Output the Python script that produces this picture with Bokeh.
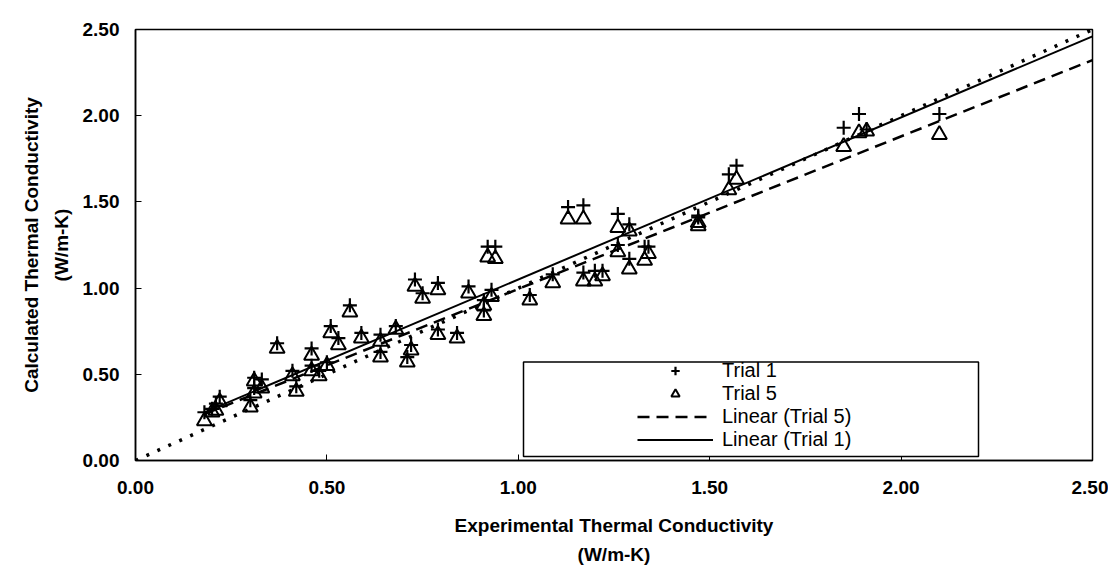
from bokeh.plotting import figure
from bokeh.models import Legend, LegendItem, BoxAnnotation, FixedTicker, Range1d
from bokeh.embed import file_html
from bokeh.resources import INLINE

# ---- data ----
exp_k = [0.18, 0.20, 0.21, 0.22, 0.30, 0.31, 0.31, 0.33, 0.37, 0.41, 0.42, 0.46, 0.46, 0.48,
         0.50, 0.51, 0.53, 0.56, 0.59, 0.64, 0.64, 0.68, 0.71, 0.72, 0.73, 0.75, 0.79, 0.79,
         0.84, 0.87, 0.91, 0.91, 0.92, 0.93, 0.94, 1.03, 1.09, 1.13, 1.17, 1.17, 1.20, 1.22,
         1.26, 1.26, 1.29, 1.29, 1.33, 1.34, 1.47, 1.47, 1.55, 1.57, 1.85, 1.89, 1.91, 2.10]
trial1 = [0.28, 0.30, 0.33, 0.37, 0.35, 0.42, 0.48, 0.47, 0.68, 0.52, 0.43, 0.65, 0.55, 0.52,
          0.57, 0.78, 0.71, 0.90, 0.74, 0.73, 0.63, 0.78, 0.60, 0.67, 1.05, 0.97, 1.03, 0.76,
          0.74, 1.01, 0.87, 0.93, 1.24, 0.99, 1.24, 0.96, 1.08, 1.47, 1.48, 1.09, 1.10, 1.10,
          1.43, 1.25, 1.37, 1.17, 1.24, 1.24, 1.41, 1.42, 1.66, 1.71, 1.93, 2.01, 1.92, 2.01]
trial5 = [0.23, 0.28, 0.29, 0.34, 0.31, 0.39, 0.46, 0.42, 0.65, 0.49, 0.40, 0.61, 0.52, 0.49,
          0.55, 0.74, 0.67, 0.86, 0.71, 0.69, 0.60, 0.76, 0.57, 0.64, 1.01, 0.94, 0.99, 0.73,
          0.71, 0.97, 0.84, 0.90, 1.18, 0.95, 1.17, 0.93, 1.03, 1.40, 1.40, 1.04, 1.04, 1.07,
          1.35, 1.21, 1.33, 1.11, 1.16, 1.20, 1.36, 1.38, 1.57, 1.63, 1.82, 1.90, 1.91, 1.89]

# linear trendlines (slope, intercept)
trend_trial1 = (0.94, 0.11)
trend_trial5 = (0.885, 0.11)
axis_max = 2.5
ticks = [0.0, 0.5, 1.0, 1.5, 2.0, 2.5]
tick_labels = {0.0: "0.00", 0.5: "0.50", 1.0: "1.00", 1.5: "1.50", 2.0: "2.00", 2.5: "2.50"}
labels = ["Trial 1", "Trial 5", "Linear (Trial 5)", "Linear (Trial 1)"]

FONT = "Liberation Sans"

p = figure(width=1108, height=567, output_backend="svg", toolbar_location=None,
           x_range=Range1d(0, axis_max), y_range=Range1d(0, axis_max),
           min_border_left=135, min_border_right=16, min_border_top=29, min_border_bottom=105)
p.grid.visible = False
p.outline_line_color = "black"
p.outline_line_width = 1.5
p.background_fill_color = "white"
p.border_fill_color = "white"

for ax in (p.xaxis[0], p.yaxis[0]):
    ax.ticker = FixedTicker(ticks=ticks)
    ax.major_label_overrides = tick_labels
    ax.major_tick_in = 6
    ax.major_tick_out = 0
    ax.minor_tick_line_color = None
    ax.axis_line_color = "black"
    ax.axis_line_width = 1.5
    ax.major_tick_line_width = 1
    ax.major_label_text_font = FONT
    ax.major_label_text_font_style = "bold"
    ax.major_label_text_font_size = "19px"
    ax.major_label_text_color = "black"
    ax.axis_label_text_font = FONT
    ax.axis_label_text_font_style = "bold"
    ax.axis_label_text_font_size = "19px"
    ax.axis_label_text_color = "black"
    ax.axis_label_text_line_height = 1.4

p.xaxis.axis_label = "Experimental Thermal Conductivity\n(W/m-K)"
p.yaxis.axis_label = "Calculated Thermal Conductivity\n(W/m-K)"
p.xaxis.major_label_standoff = 20
p.yaxis.major_label_standoff = 16
p.xaxis.axis_label_standoff = 18
p.yaxis.axis_label_standoff = 8

# 1:1 reference line
p.line([0, axis_max], [0, axis_max], line_color="black", line_width=3.5, line_dash="3 9")

# trendlines
x0 = min(exp_k)
tx = [x0, axis_max]
t5 = p.line(tx, [trend_trial5[0] * v + trend_trial5[1] for v in tx],
            line_color="black", line_width=2.5, line_dash="12 7")
t1 = p.line(tx, [trend_trial1[0] * v + trend_trial1[1] for v in tx],
            line_color="black", line_width=2)

r1 = p.scatter(exp_k, trial1, marker="cross", size=14, line_color="black", line_width=2.2)
r5 = p.scatter(exp_k, trial5, marker="triangle", size=15, line_color="black",
               line_width=2, fill_color=None)

# legend frame
box = BoxAnnotation(left=(523 - 135) / 382.8, right=(978 - 135) / 382.8,
                    bottom=(462 - 458) / 173.2, top=(462 - 363) / 173.2,
                    fill_color="white", fill_alpha=1, line_color="black", line_alpha=1,
                    line_width=1.5)
p.add_layout(box)

legend = Legend(items=[LegendItem(label=labels[0], renderers=[r1]),
                       LegendItem(label=labels[1], renderers=[r5]),
                       LegendItem(label=labels[2], renderers=[t5]),
                       LegendItem(label=labels[3], renderers=[t1])],
                location=(637 - 135, 9), padding=0, spacing=0,
                glyph_width=76, glyph_height=21, label_height=21, label_standoff=9,
                border_line_color=None, background_fill_alpha=0,
                label_text_font=FONT, label_text_font_size="20px", label_text_color="black",
                margin=0)
p.add_layout(legend)

open("out.html", "w").write(file_html(p, INLINE))
